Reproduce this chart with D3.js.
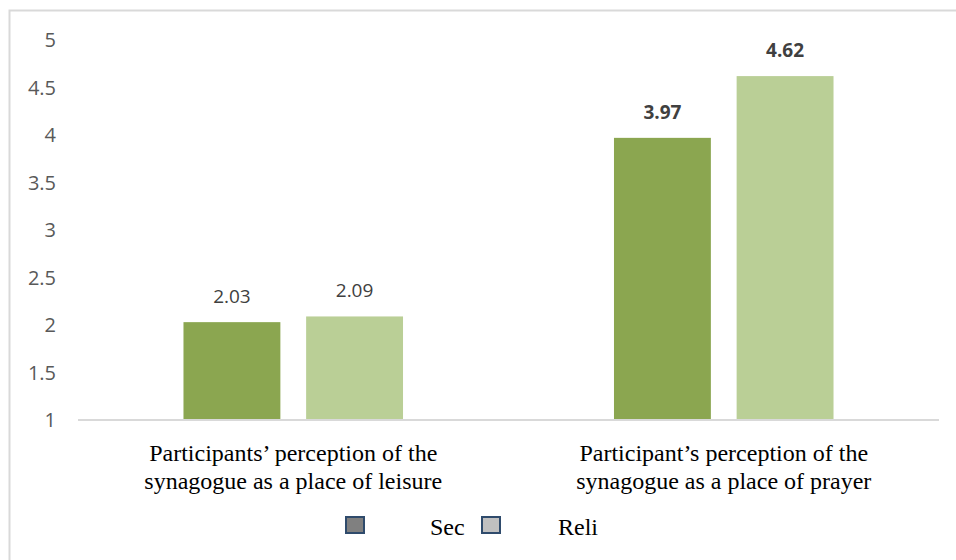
<!DOCTYPE html>
<html>
<head>
<meta charset="utf-8">
<script src="https://cdn.jsdelivr.net/npm/d3@7"></script>
<style>
  body { margin: 0; background: #fff; }
</style>
</head>
<body>
<div id="chart"></div>
<script>
var categories = [
  ["Participants\u2019 perception of the", "synagogue as a place of leisure"],
  ["Participant\u2019s perception of the", "synagogue as a place of prayer"]
];
var seriesNames = ["Sec", "Reli"];
var secValues = [2.03, 3.97];
var reliValues = [2.09, 4.62];
var yTicks = [1, 1.5, 2, 2.5, 3, 3.5, 4, 4.5, 5];

var width = 956, height = 560;
var margin = { top: 40, right: 17, bottom: 140, left: 78 };

var barColors = ["#8ba650", "#bacf96"];
var legendColors = ["#808080", "#c0c0c0"];

var svg = d3.select("#chart")
  .append("svg")
  .attr("width", width)
  .attr("height", height);

// outer frame (only top and left edges visible in the source)
svg.append("path")
  .attr("d", "M9.5," + height + " V10.5 H" + width)
  .attr("fill", "none")
  .attr("stroke", "#d9d9d9")
  .attr("stroke-width", 2);

var x0 = d3.scaleBand()
  .domain(d3.range(categories.length))
  .range([margin.left, width - margin.right]);

var x1 = d3.scaleBand()
  .domain(seriesNames)
  .range([0, x0.bandwidth()])
  .paddingInner(0.21)
  .paddingOuter(0.86);

var y = d3.scaleLinear()
  .domain([1, 5])
  .range([height - margin.bottom, margin.top]);

// y tick labels
svg.append("g")
  .selectAll("text")
  .data(yTicks)
  .enter()
  .append("text")
  .attr("x", 56)
  .attr("y", function (d) { return y(d); })
  .attr("dy", "0.35em")
  .attr("text-anchor", "end")
  .style("font-family", "'Open Sans', sans-serif")
  .style("font-size", "20px")
  .style("fill", "#595959")
  .text(function (d) { return d; });

var table = categories.map(function (c, i) {
  return { i: i, values: [secValues[i], reliValues[i]] };
});

var groups = svg.selectAll("g.cat")
  .data(table)
  .enter()
  .append("g")
  .attr("class", "cat")
  .attr("transform", function (d) { return "translate(" + x0(d.i) + ",0)"; });

groups.selectAll("rect")
  .data(function (d) { return d.values.map(function (v, k) { return { k: k, v: v, cat: d.i }; }); })
  .enter()
  .append("rect")
  .attr("x", function (d) { return x1(seriesNames[d.k]); })
  .attr("width", x1.bandwidth())
  .attr("y", function (d) { return y(d.v); })
  .attr("height", function (d) { return y(1) - y(d.v); })
  .attr("fill", function (d) { return barColors[d.k]; });

groups.selectAll("text.val")
  .data(function (d) { return d.values.map(function (v, k) { return { k: k, v: v, cat: d.i }; }); })
  .enter()
  .append("text")
  .attr("class", "val")
  .attr("x", function (d) { return x1(seriesNames[d.k]) + x1.bandwidth() / 2; })
  .attr("y", function (d) { return y(d.v) - 19; })
  .attr("text-anchor", "middle")
  .style("font-family", "'Open Sans', sans-serif")
  .style("font-size", "19px")
  .style("font-weight", function (d) { return d.cat === 1 ? "bold" : "normal"; })
  .style("fill", "#404040")
  .text(function (d) { return d.v.toFixed(2); });

// baseline
svg.append("line")
  .attr("x1", margin.left)
  .attr("x2", width - margin.right)
  .attr("y1", y(1))
  .attr("y2", y(1))
  .attr("stroke", "#d9d9d9")
  .attr("stroke-width", 2);

// category labels
var catLabels = svg.selectAll("text.cat")
  .data(categories)
  .enter()
  .append("text")
  .attr("class", "cat")
  .attr("x", function (d, i) { return x0(i) + x0.bandwidth() / 2; })
  .attr("y", 461)
  .attr("text-anchor", "middle")
  .style("font-family", "'Liberation Serif', 'Times New Roman', serif")
  .style("font-size", "24px")
  .style("fill", "#000");

catLabels.selectAll("tspan")
  .data(function (d) { return d; })
  .enter()
  .append("tspan")
  .attr("x", function () { return d3.select(this.parentNode).attr("x"); })
  .attr("dy", function (d, j) { return j === 0 ? 0 : 28; })
  .text(function (d) { return d; });

// legend
var legendX = [346, 482];
var legend = svg.selectAll("g.legend")
  .data(seriesNames)
  .enter()
  .append("g")
  .attr("class", "legend")
  .attr("transform", function (d, i) { return "translate(" + legendX[i] + ",517)"; });

legend.append("rect")
  .attr("width", 18)
  .attr("height", 16)
  .attr("fill", function (d, i) { return legendColors[i]; })
  .attr("stroke", "#2f4b6c")
  .attr("stroke-width", 2);

legend.append("text")
  .attr("x", function (d, i) { return i === 0 ? 84 : 76; })
  .attr("y", 18)
  .style("font-family", "'Liberation Serif', 'Times New Roman', serif")
  .style("font-size", "24px")
  .style("fill", "#000")
  .text(function (d) { return d; });
</script>
</body>
</html>
